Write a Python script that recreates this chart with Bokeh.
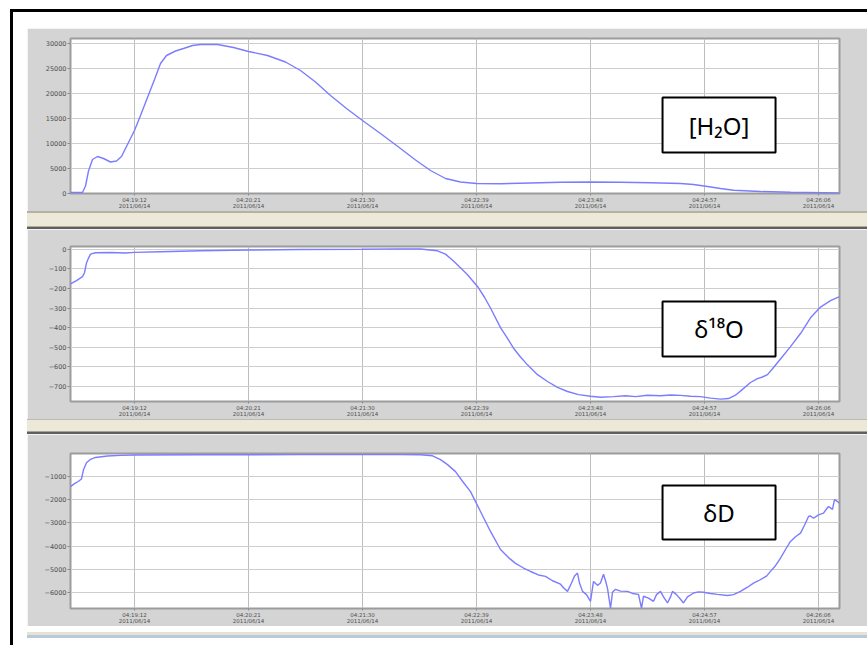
from bokeh.plotting import figure
from bokeh.models import FixedTicker, Div, BoxAnnotation, Label, Range1d
from bokeh.layouts import column
from bokeh.embed import file_html
from bokeh.resources import INLINE

# ---- x axis: seconds after 04:18:00 on 2011/06/14 ----
x_ticks = [72, 141, 210, 279, 348, 417, 486]
x_tick_labels = ["04:19:12\n2011/06/14", "04:20:21\n2011/06/14", "04:21:30\n2011/06/14",
                 "04:22:39\n2011/06/14", "04:23:48\n2011/06/14", "04:24:57\n2011/06/14",
                 "04:26:06\n2011/06/14"]
x_start, x_end = 33.26, 498.71

# ---- [H2O] ----
h2o_t = [33.26, 40.53, 42.34, 44.16, 46.58, 49.61, 53.24, 57.47, 61.11, 64.13, 67.76, 72.0,
         75.63, 79.87, 84.11, 87.74, 91.37, 96.82, 101.66, 107.11, 111.95, 122.24, 131.92,
         141.0, 152.5, 163.39, 172.47, 181.55, 190.63, 200.32, 210.0, 220.89, 233.0, 242.08,
         251.16, 260.24, 269.32, 279.0, 293.53, 311.68, 329.84, 348.0, 366.16, 384.32, 402.47,
         410.34, 418.82, 426.68, 434.55, 450.89, 469.05, 498.71]
h2o_v = [200, 200, 1500, 4500, 6800, 7400, 7000, 6300, 6500, 7400, 9800, 12600, 15600, 19200,
         22800, 26000, 27600, 28500, 29000, 29600, 29800, 29800, 29200, 28400, 27600, 26300,
         24600, 22300, 19600, 17000, 14600, 12000, 9000, 6700, 4600, 3000, 2300, 2000, 1950,
         2100, 2250, 2300, 2250, 2150, 2000, 1800, 1400, 1000, 650, 400, 250, 100]
h2o_ticks = [0, 5000, 10000, 15000, 20000, 25000, 30000]
h2o_tick_labels = ["0", "5000", "10000", "15000", "20000", "25000", "30000"]

# ---- delta 18O ----
d18_t = [33.26, 36.89, 40.53, 41.74, 42.95, 44.16, 45.37, 48.39, 57.47, 66.55, 72.0, 87.74,
         111.95, 141.0, 172.47, 210.0, 233.0, 245.1, 255.39, 260.24, 265.08, 269.32, 273.55,
         279.6, 283.84, 287.47, 293.53, 297.76, 301.4, 305.63, 309.87, 315.92, 321.97, 328.03,
         334.08, 340.74, 348.0, 354.05, 361.92, 369.18, 375.24, 382.5, 390.37, 396.42, 402.47,
         408.53, 414.58, 420.63, 426.68, 431.53, 435.76, 440.0, 444.84, 449.08, 452.1, 455.13,
         458.16, 463.0, 469.05, 475.11, 481.16, 487.21, 493.26, 498.71]
d18_v = [-177, -160, -140, -120, -70, -45, -25, -18, -17, -19, -16, -13, -8, -4, -1, 0, 2, 1,
         -8, -25, -60, -95, -130, -190, -245, -300, -400, -455, -505, -550, -590, -640, -675,
         -705, -726, -742, -750, -755, -752, -748, -752, -745, -748, -744, -746, -750, -752,
         -760, -765, -762, -745, -715, -680, -660, -652, -640, -610, -560, -497, -430, -350,
         -295, -262, -242]
d18_ticks = [0, -100, -200, -300, -400, -500, -600, -700]
d18_tick_labels = ["0", "\u2212100", "\u2212200", "\u2212300", "\u2212400", "\u2212500",
                   "\u2212600", "\u2212700"]

# ---- delta D ----
dD_t = [33.26, 35.68, 38.11, 39.92, 41.13, 42.95, 45.37, 48.39, 55.66, 63.53, 72.0, 111.95,
        172.47, 233.0, 245.1, 252.37, 257.21, 261.45, 266.29, 270.53, 275.37, 281.42, 287.47,
        293.53, 298.37, 302.61, 307.45, 311.68, 316.53, 320.76, 325.0, 329.84, 331.66, 334.08,
        336.5, 338.32, 340.13, 341.34, 343.16, 345.58, 348.0, 349.82, 352.24, 354.05, 355.87,
        357.08, 358.29, 360.11, 361.32, 363.13, 366.16, 370.39, 373.42, 377.05, 378.87, 380.08,
        383.11, 386.13, 387.95, 390.37, 392.18, 394.6, 396.42, 397.63, 400.05, 402.47, 404.29,
        406.71, 410.34, 413.37, 416.39, 420.63, 424.87, 430.92, 434.55, 438.79, 443.03, 446.66,
        449.68, 452.71, 454.53, 456.95, 459.97, 463.0, 466.03, 469.05, 472.08, 475.11, 477.53,
        479.95, 481.16, 482.97, 486.0, 489.03, 490.84, 492.05, 493.26, 494.47, 495.68, 496.89,
        498.71]
dD_v = [-1430, -1300, -1200, -1100, -700, -400, -250, -170, -110, -80, -65, -55, -50, -50,
        -55, -100, -267, -480, -784, -1200, -1650, -2508, -3370, -4150, -4500, -4750, -4950,
        -5100, -5250, -5310, -5500, -5650, -5800, -5960, -5600, -5300, -5170, -5600, -5960,
        -6100, -6390, -5530, -5700, -5600, -5220, -5500, -5830, -6690, -6000, -5870, -5950,
        -5960, -6050, -6090, -6690, -6170, -6250, -6390, -6100, -5960, -6200, -6460, -6200,
        -5960, -6100, -6300, -6460, -6200, -6030, -5980, -6000, -6050, -6090, -6140, -6100,
        -5960, -5780, -5600, -5500, -5380, -5300, -5095, -4850, -4520, -4150, -3800, -3600,
        -3440, -3100, -2720, -2700, -2800, -2650, -2580, -2400, -2290, -2350, -2420, -1990,
        -2050, -2150]
dD_ticks = [-1000, -2000, -3000, -4000, -5000, -6000]
dD_tick_labels = ["\u22121000", "\u22122000", "\u22123000", "\u22124000", "\u22125000",
                  "\u22126000"]

PANEL_GRAY = "#d4d4d4"
LINE_BLUE = "#7c7cff"
W = 840


def panel(ts, vs, y_rng, yticks, ylabels, top_b, bot_b, box, text, text_y):
    fh = 155
    p = figure(width=W, height=top_b + fh + bot_b, frame_width=769, frame_height=fh,
               x_range=Range1d(x_start, x_end), y_range=Range1d(*y_rng),
               output_backend="svg", toolbar_location=None,
               min_border_left=43, min_border_right=W - 43 - 769,
               min_border_top=top_b, min_border_bottom=bot_b)
    p.border_fill_color = PANEL_GRAY
    p.background_fill_color = "white"
    p.outline_line_color = "#9c9c9c"
    p.outline_line_width = 2

    p.xaxis.ticker = FixedTicker(ticks=x_ticks)
    p.xaxis.major_label_overrides = dict(zip(x_ticks, x_tick_labels))
    p.yaxis.ticker = FixedTicker(ticks=yticks)
    p.yaxis.major_label_overrides = dict(zip(yticks, ylabels))
    for ax in (p.xaxis[0], p.yaxis[0]):
        ax.axis_line_color = None
        ax.major_tick_line_color = "#8a8a8a"
        ax.minor_tick_line_color = None
        ax.major_tick_in = 0
        ax.major_label_text_font = "DejaVu Sans"
        ax.major_label_text_color = "#505050"
        ax.major_label_text_line_height = 1.0
    p.xaxis.major_label_text_font_size = "5.5px"
    p.yaxis.major_label_text_font_size = "6.5px"
    p.xaxis.major_tick_out = 2
    p.xaxis.major_label_standoff = 1
    p.yaxis.major_tick_out = 3
    p.yaxis.major_label_standoff = 1

    p.xgrid.ticker = FixedTicker(ticks=x_ticks)
    p.ygrid.ticker = FixedTicker(ticks=yticks)
    p.xgrid.grid_line_color = "#bdbdbd"
    p.ygrid.grid_line_color = "#cdcdcd"

    p.line(ts, vs, line_color=LINE_BLUE, line_width=1.4)

    b = BoxAnnotation(left=box[0], right=box[1], bottom=box[2], top=box[3],
                      fill_color="white", fill_alpha=1.0,
                      line_color="black", line_width=2, line_alpha=1.0)
    p.add_layout(b)
    lab = Label(x=(box[0] + box[1]) / 2, y=text_y, text=text,
                text_align="center", text_baseline="middle",
                text_font="Noto Sans", text_font_size="24px", text_color="black")
    p.add_layout(lab)
    return p


p1 = panel(h2o_t, h2o_v, (0, 31000), h2o_ticks, h2o_tick_labels, 10, 17,
           (391.6, 460.0, 8200, 19200), "[H\u2082O]", 13700)
p2 = panel(d18_t, d18_v, (-777, 14), d18_ticks, d18_tick_labels, 17, 18,
           (391.6, 460.0, -547.4, -266.8), "\u03b4\u00b9\u2078O", -407)
p3 = panel(dD_t, dD_v, (-6700, 0), dD_ticks, dD_tick_labels, 19, 17,
           (391.6, 460.0, -3716, -1388), "\u03b4D", -2552)


def strip(parts, w=W):
    html = "".join('<div style="width:%dpx;height:%dpx;background:%s"></div>' % (w, h, c)
                   for h, c in parts)
    return Div(text=html, width=w, height=sum(h for h, _ in parts), margin=0)


sep1 = strip([(2, "#b5b2a5"), (13, "#ece9d8"), (1, "#b0ad9f"), (2, "#5f5f5f")])
sep2 = strip([(1, "#bdbab0"), (11, "#ece9d8"), (1, "#a5a29a"), (2, "#5f5f5f")])
bottom = strip([(3, "#e6e3d2"), (3, "#b9c9dc")])

inner = column(p1, sep1, p2, sep2, p3, bottom, margin=(28, 0, 14, 27))
layout = column(inner, margin=0, styles={
    "background-image": "linear-gradient(#000, #000), linear-gradient(#000, #000)",
    "background-size": "3px 100%, 100% 3px",
    "background-position": "10px 9px, 10px 9px",
    "background-repeat": "no-repeat",
})

open("out.html", "w").write(file_html(layout, INLINE))
